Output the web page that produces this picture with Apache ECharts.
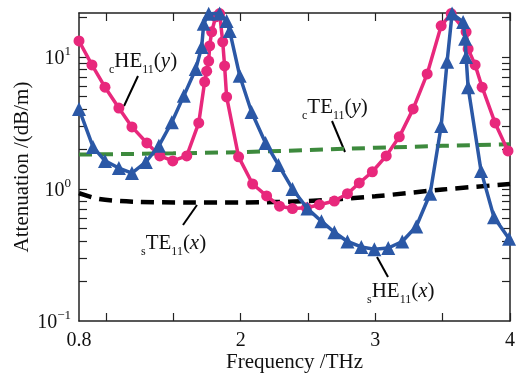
<!DOCTYPE html>
<html>
<head>
<meta charset="utf-8">
<script src="https://cdn.jsdelivr.net/npm/echarts@6/dist/echarts.min.js"></script>
<style>
  html, body { margin: 0; padding: 0; background: #fff; }
  #chart { width: 527px; height: 375px; }
</style>
</head>
<body>
<div id="chart"></div>
<script>
// cHE11(y) - pink circles
const pinkFreq = [0.8, 0.896, 0.993, 1.096, 1.193, 1.304, 1.4, 1.496, 1.6, 1.689, 1.733, 1.748, 1.763, 1.77, 1.785, 1.815, 1.844,
  1.867, 1.881, 1.896, 1.985, 2.089, 2.193, 2.289, 2.385, 2.489, 2.585, 2.696, 2.793, 2.881, 2.978, 3.081, 3.178, 3.281, 3.385,
  3.489, 3.563, 3.674, 3.689, 3.741, 3.793, 3.889, 3.985];
const pinkAtt = [13.2, 8.7, 5.9, 4.1, 2.95, 2.23, 1.78, 1.63, 1.78, 3.16, 6.47, 7.8, 9.3, 12.1, 15.5, 20.1, 21.3,
  13.0, 8.55, 4.98, 1.75, 1.09, 0.885, 0.74, 0.71, 0.72, 0.76, 0.81, 0.92, 1.11, 1.35, 1.78, 2.48, 4.04, 7.43,
  17.2, 21.3, 15.5, 11.5, 8.7, 5.9, 3.16, 1.94];

// sHE11(x) - blue triangles
const blueFreq = [0.8, 0.904, 0.993, 1.096, 1.193, 1.296, 1.393, 1.489, 1.578, 1.667, 1.711, 1.726, 1.763, 1.844, 1.896, 1.919,
  1.993, 2.081, 2.185, 2.281, 2.385, 2.496, 2.6, 2.696, 2.793, 2.896, 2.993, 3.096, 3.2, 3.304, 3.407, 3.489, 3.533, 3.57,
  3.652, 3.667, 3.674, 3.689, 3.785, 3.881, 3.993];
const blueAtt = [4.04, 2.08, 1.63, 1.44, 1.32, 1.6, 2.12, 3.2, 5.07, 8.1, 11.9, 17.8, 21.2, 21.3, 18.7, 15.7,
  7.2, 3.83, 2.23, 1.52, 1.0, 0.71, 0.57, 0.47, 0.40, 0.364, 0.35, 0.357, 0.40, 0.52, 0.92, 3.0, 9.2, 21.3,
  18.4, 13.7, 10.0, 5.9, 1.37, 0.61, 0.42];

// cTE11(y) - green dashed
const greenFreq = [0.8, 1.5, 2.0, 2.5, 3.0, 3.5, 4.0];
const greenAtt = [1.82, 1.86, 1.9, 1.97, 2.05, 2.12, 2.18];

// sTE11(x) - black dashed
const blackFreq = [0.8, 0.95, 1.2, 1.6, 2.0, 2.5, 3.0, 3.5, 4.0];
const blackAtt = [0.93, 0.84, 0.8, 0.79, 0.79, 0.81, 0.88, 0.99, 1.09];

const xLabels = [0.8, 2, 3, 4];
const xTicks = [1, 1.5, 2, 2.5, 3, 3.5, 4];
const yLabels = [0.1, 1, 10];
const yTicks = [0.2, 0.3, 0.4, 0.5, 0.6, 0.7, 0.8, 0.9, 1, 2, 3, 4, 5, 6, 7, 8, 9, 10, 20];

const pair = (xs, ys) => xs.map((x, i) => [x, ys[i]]);

const FONT = 'Liberation Serif';
const chart = echarts.init(document.getElementById('chart'));

const xBase = {
  type: 'value', min: 0.8, max: 4,
  axisLine: { lineStyle: { color: '#222', width: 1.5 } },
  axisTick: { inside: true, length: 8, customValues: xTicks, lineStyle: { color: '#222', width: 1.2 } },
  splitLine: { show: false }
};
const yBase = {
  type: 'log', logBase: 10, min: 0.1, max: 21.5,
  axisLine: { lineStyle: { color: '#222', width: 1.5 } },
  axisTick: { inside: true, length: 8, customValues: yTicks, lineStyle: { color: '#222', width: 1.2 } },
  splitLine: { show: false }
};

const ann = (text, x, y) => ({
  type: 'text', x: x, y: y,
  style: {
    text: text, fill: '#111',
    font: '21px "' + FONT + '"',
    rich: {
      m: { fontFamily: FONT, fontSize: 21, lineHeight: 30, verticalAlign: 'middle' },
      i: { fontFamily: FONT, fontSize: 21, fontStyle: 'italic', lineHeight: 30, verticalAlign: 'middle' },
      s: { fontFamily: FONT, fontSize: 12, lineHeight: 13, verticalAlign: 'bottom' }
    }
  }
});
const lead = (x1, y1, x2, y2) => ({
  type: 'line', shape: { x1, y1, x2, y2 }, style: { stroke: '#000', lineWidth: 2 }
});

chart.setOption({
  backgroundColor: '#fff',
  animation: false,
  grid: { left: 79, right: 17, top: 13, bottom: 54, outerBoundsMode: 'none', containLabel: false },
  xAxis: [
    Object.assign({}, xBase, {
      position: 'bottom',
      name: 'Frequency /THz', nameLocation: 'middle', nameGap: 31, nameMoveOverlap: false,
      nameTextStyle: { fontFamily: FONT, fontSize: 21, color: '#111' },
      axisLabel: { customValues: xLabels, margin: 10, fontFamily: FONT, fontSize: 20, color: '#111' }
    }),
    Object.assign({}, xBase, { position: 'top', axisLabel: { show: false } })
  ],
  yAxis: [
    Object.assign({}, yBase, {
      position: 'left',
      name: 'Attenuation /(dB/m)', nameLocation: 'middle', nameGap: 46, nameMoveOverlap: false,
      nameTextStyle: { fontFamily: FONT, fontSize: 21, color: '#111' },
      axisLabel: {
        customValues: yLabels, margin: 8, color: '#111',
        formatter: v => '{b|10}{e|' + String(Math.round(Math.log10(v))).replace('-', '\u2212') + '}',
        rich: {
          b: { fontFamily: FONT, fontSize: 20, lineHeight: 24, verticalAlign: 'bottom' },
          e: { fontFamily: FONT, fontSize: 13, lineHeight: 24, verticalAlign: 'top' }
        }
      }
    }),
    Object.assign({}, yBase, { position: 'right', axisLabel: { show: false } })
  ],
  series: [
    {
      name: 'cTE11(y)', type: 'line', data: pair(greenFreq, greenAtt), showSymbol: false,
      lineStyle: { color: '#3d8a3d', width: 4, type: [13, 8] }, z: 3
    },
    {
      name: 'sTE11(x)', type: 'line', data: pair(blackFreq, blackAtt), showSymbol: false, smooth: 0.3,
      lineStyle: { color: '#000', width: 4.5, type: [13, 8] }, z: 3
    },
    {
      name: 'cHE11(y)', type: 'line', data: pair(pinkFreq, pinkAtt), clip: false,
      symbol: 'circle', symbolSize: 11,
      itemStyle: { color: '#e8287c' }, lineStyle: { color: '#e8287c', width: 3.5 }, z: 4
    },
    {
      name: 'sHE11(x)', type: 'line', data: pair(blueFreq, blueAtt), clip: false,
      symbol: 'triangle', symbolSize: 14,
      itemStyle: { color: '#2b58a6' }, lineStyle: { color: '#2b58a6', width: 3.5 }, z: 5
    }
  ],
  graphic: [
    ann('{s|c}{m|HE}{s|11}{m|(}{i|y}{m|)}', 109, 46),
    lead(138, 76, 124, 106),
    ann('{s|c}{m|TE}{s|11}{m|(}{i|y}{m|)}', 302, 92),
    lead(332, 121, 345, 152),
    ann('{s|s}{m|TE}{s|11}{m|(}{i|x}{m|)}', 141, 228),
    lead(197, 205, 183, 225),
    ann('{s|s}{m|HE}{s|11}{m|(}{i|x}{m|)}', 367, 276),
    lead(377, 257, 388, 277)
  ]
});
</script>
</body>
</html>
